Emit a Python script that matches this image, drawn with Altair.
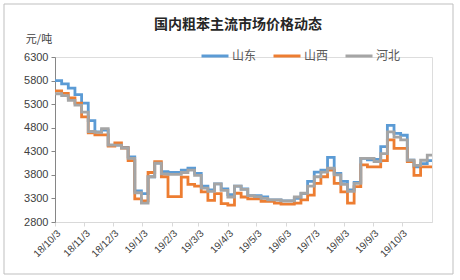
import altair as alt
import pandas as pd

# ---- data (weekly readings) ----
title_text = "国内粗苯主流市场价格动态"
unit_text = "元/吨"
regions = ["山东", "山西", "河北"]
colors = ["#5B9BD5", "#ED7D31", "#A5A5A5"]

week_dates = [d.strftime("%Y-%m-%d") for d in pd.date_range("2018-10-03", periods=57, freq="7D")] + ["2019-11-04"]

shandong = [5800, 5730, 5640, 5500, 5320, 4950, 4710, 4750, 4430, 4430,
            4380, 4180, 3460, 3400, 3760, 4050, 3870, 3850, 3850, 3900,
            3940, 3830, 3560, 3480, 3610, 3500, 3380, 3560, 3500, 3360,
            3360, 3330, 3270, 3270, 3250, 3250, 3300, 3400, 3660, 3860,
            3900, 4170, 3830, 3660, 3480, 3640, 4150, 4120, 4130, 4400,
            4850, 4680, 4640, 4110, 3970, 4040, 4100, 4100]
shanxi = [5580, 5530, 5430, 5320, 5030, 4690, 4650, 4650, 4410, 4480,
          4370, 4100, 3290, 3250, 3850, 4080, 3760, 3340, 3340, 3750,
          3600, 3560, 3440, 3260, 3400, 3190, 3160, 3410, 3330, 3290,
          3290, 3240, 3240, 3200, 3180, 3180, 3200, 3270, 3370, 3620,
          3760, 3900, 3620, 3440, 3200, 3550, 4010, 3970, 3970, 4100,
          4540, 4360, 4360, 4080, 3790, 3970, 3970, 3970]
hebei = [5520, 5480, 5380, 5280, 5130, 4720, 4700, 4780, 4430, 4430,
         4370, 4150, 3420, 3200, 3760, 4050, 3820, 3810, 3810, 3850,
         3900, 3790, 3520, 3450, 3610, 3470, 3330, 3560, 3490, 3360,
         3340, 3300, 3270, 3270, 3250, 3250, 3330, 3410, 3560, 3760,
         3860, 3940, 3800, 3600, 3450, 3620, 4150, 4150, 4080, 4250,
         4710, 4600, 4540, 4110, 4000, 4110, 4220, 4220]

y_ticks = [2800, 3300, 3800, 4300, 4800, 5300, 5800, 6300]
x_ticks = [(2018, 10), (2018, 11), (2018, 12), (2019, 1), (2019, 2), (2019, 3), (2019, 4),
           (2019, 5), (2019, 6), (2019, 7), (2019, 8), (2019, 9), (2019, 10)]

rows = []
for name, series in zip(regions, [shandong, shanxi, hebei]):
    for d, v in zip(week_dates, series):
        rows.append({"date": d, "price": v, "region": name})
df = pd.DataFrame(rows)

W, H = 377, 165
FONT_NUM = "Liberation Sans"
FONT_CJK = "Noto Sans CJK SC"

x_enc = alt.X(
    "date:T",
    scale=alt.Scale(type="utc",
                    domain=[alt.DateTime(year=2018, month=10, date=3, utc=True),
                            alt.DateTime(year=2019, month=11, date=4, utc=True)]),
    axis=alt.Axis(
        values=[alt.DateTime(year=y, month=m, date=3, utc=True) for y, m in x_ticks],
        labelExpr="utcFormat(datum.value, '%y/%-m/%-d')",
        labelAngle=-45, labelAlign="right", labelBaseline="top",
        labelFont=FONT_NUM, labelFontSize=10, labelColor="#404040",
        labelPadding=2, tickSize=4, tickColor="#D9D9D9", domainColor="#D9D9D9",
        grid=False, title=None, labelOverlap=False,
    ),
)
y_enc = alt.Y(
    "price:Q",
    scale=alt.Scale(domain=[2800, 6300], zero=False, nice=False),
    axis=alt.Axis(
        values=y_ticks, format="d", labelFont=FONT_NUM, labelFontSize=11,
        labelColor="#404040", labelPadding=3, tickSize=4, tickColor="#868686",
        domainColor="#868686", grid=False, title=None,
    ),
)

lines = alt.Chart(df).mark_line(interpolate="step-after", strokeWidth=2.8).encode(
    x=x_enc,
    y=y_enc,
    color=alt.Color(
        "region:N",
        scale=alt.Scale(domain=regions, range=colors),
        legend=alt.Legend(
            orient="none", legendX=145, legendY=-16, direction="horizontal",
            title=None, symbolType="stroke", symbolSize=729, symbolStrokeWidth=3,
            labelFont=FONT_CJK, labelFontSize=12, labelColor="#595959",
            labelOffset=2, columnPadding=10,
        ),
    ),
    detail="region:N",
)

one = alt.Data(values=[{"t": title_text, "u": unit_text}])

title = alt.Chart(one).mark_text(
    font=FONT_CJK, fontSize=14, fontWeight="bold", color="#262626",
    align="center", baseline="middle",
).encode(text="t:N", x=alt.value(183), y=alt.value(-32))

unit = alt.Chart(one).mark_text(
    font=FONT_CJK, fontSize=11, color="#404040", align="center", baseline="middle",
).encode(text="u:N", x=alt.value(-16), y=alt.value(-17))

frame = alt.Chart(one).mark_rect(filled=False, stroke="#BFBFBF", strokeWidth=1).encode(
    x=alt.value(-51), x2=alt.value(398), y=alt.value(-53), y2=alt.value(217)
)

chart = alt.layer(frame, lines, title, unit).properties(
    width=W, height=H,
    padding={"left": 55, "top": 57, "right": 28, "bottom": 58},
    autosize=alt.AutoSizeParams(type="none"),
).configure_view(stroke=None).configure(background="white")

chart.save("out.html", embed_options={"renderer": "svg", "actions": False})
